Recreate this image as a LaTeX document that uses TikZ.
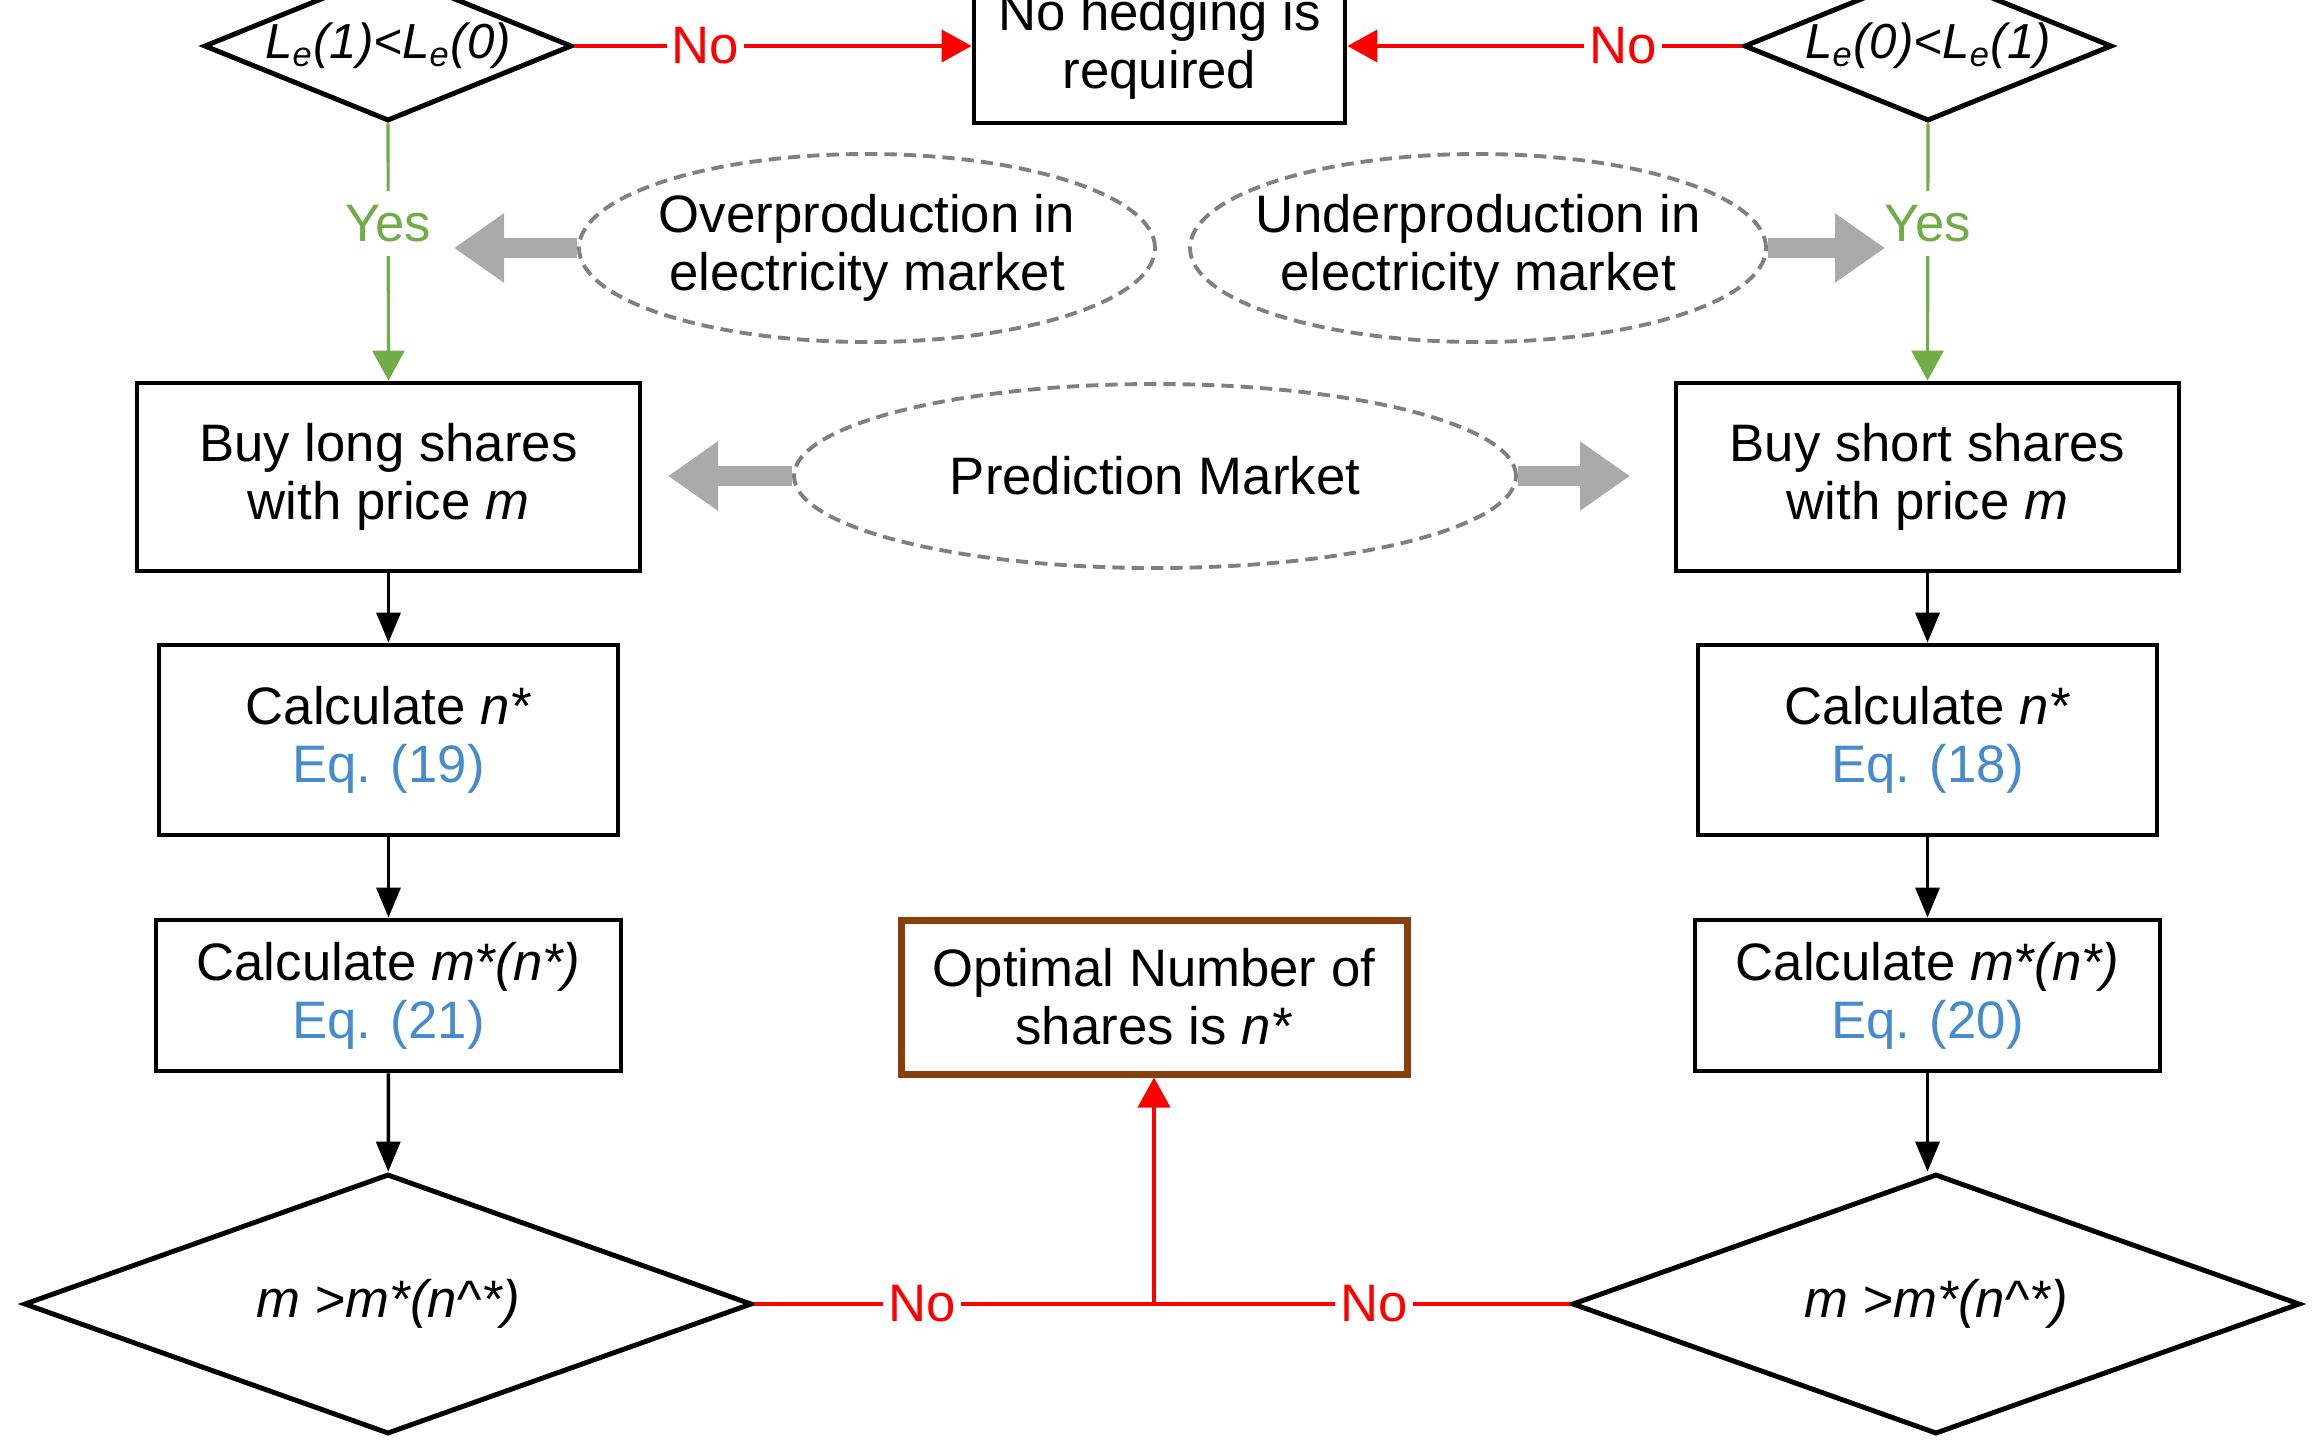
\documentclass[tikz,border=0pt]{standalone}
\usepackage{fontspec}
\setmainfont{Liberation Sans}
\usepackage{xcolor}
\usepackage{tikz}
\usetikzlibrary{shapes.geometric, arrows.meta, positioning}
\definecolor{nored}{RGB}{255,0,0}
\definecolor{yesgreen}{RGB}{112,173,71}
\definecolor{eqblue}{RGB}{70,140,205}
\definecolor{optbrown}{RGB}{138,64,12}
\definecolor{hintgray}{RGB}{128,128,128}
\definecolor{fatgray}{RGB}{170,170,170}
\tikzstyle{box} = [draw=black,line width=1.4pt,fill=white,align=center,inner sep=2pt]
\tikzstyle{decide} = [draw=black,line width=1.4pt,diamond,inner sep=0pt]
\tikzstyle{hint} = [draw=hintgray,ellipse,line width=1.1pt,dash pattern=on 3.5pt off 2pt,inner sep=0pt]
\tikzstyle{fat} = [fatgray,line width=2mm,-{Triangle[width=6.6mm,length=5mm]}]
\tikzstyle{arrow} = [line width=1pt,-{Triangle[width=2.4mm,length=3mm]}]
\tikzstyle{noline} = [nored,line width=1.25pt]
\tikzstyle{yesline} = [yesgreen,line width=0.9pt]
\tikzstyle{lbl} = [fill=white,inner xsep=1.5pt,inner ysep=1pt]

\begin{document}
\begin{tikzpicture}[font=\fontsize{15}{16.5}\selectfont]
    \path[use as bounding box] (0,0) rectangle (23.13,-14.40);
    \clip (0,0) rectangle (23.13,-14.40);

    % first check
    \node[decide, minimum width=3.68cm, minimum height=1.5cm,
          label={center:{\fontsize{14}{16}\selectfont\itshape L\textsubscript{e}(1)<L\textsubscript{e}(0)}}] (q1) at (3.88,-0.46) {};
    \node[decide, minimum width=3.68cm, minimum height=1.5cm,
          label={center:{\fontsize{14}{16}\selectfont\itshape L\textsubscript{e}(0)<L\textsubscript{e}(1)}}] (q2) at (19.28,-0.46) {};
    \node[box, minimum width=3.71cm, minimum height=1.54cm] (nohedge) at (11.595,-0.46) {No hedging is\\required};

    % market hints
    \node[hint, minimum width=5.76cm, minimum height=1.88cm,
          label={[align=center]center:Overproduction in\\electricity market}] (over) at (8.67,-2.48) {};
    \node[hint, minimum width=5.76cm, minimum height=1.88cm,
          label={[align=center]center:Underproduction in\\electricity market}] (under) at (14.78,-2.48) {};
    \node[hint, minimum width=7.22cm, minimum height=1.84cm,
          label={center:Prediction Market}] (pm) at (11.55,-4.76) {};
    \coordinate (overtip) at (4.54,-2.48);
    \coordinate (undertip) at (18.85,-2.48);
    \coordinate (pmleft) at (6.68,-4.76);
    \coordinate (pmright) at (16.30,-4.76);

    % left branch
    \node[box, minimum width=5.03cm, minimum height=1.88cm] (long) at (3.885,-4.77) {Buy long shares\\with price \textit{m}};
    \node[box, minimum width=4.59cm, minimum height=1.90cm] (nleft) at (3.885,-7.40) {Calculate \textit{n*}\\\textcolor{eqblue}{Eq. (19)}};
    \node[box, minimum width=4.65cm, minimum height=1.51cm] (mleft) at (3.885,-9.955) {Calculate \textit{m*(n*)}\\\textcolor{eqblue}{Eq. (21)}};
    \node[decide, minimum width=7.28cm, minimum height=2.60cm,
          label={center:{\itshape m >m*(n\textasciicircum*)}}] (cleft) at (3.88,-13.04) {};

    % right branch
    \node[box, minimum width=5.03cm, minimum height=1.88cm] (short) at (19.275,-4.77) {Buy short shares\\with price \textit{m}};
    \node[box, minimum width=4.59cm, minimum height=1.90cm] (nright) at (19.275,-7.40) {Calculate \textit{n*}\\\textcolor{eqblue}{Eq. (18)}};
    \node[box, minimum width=4.65cm, minimum height=1.51cm] (mright) at (19.275,-9.955) {Calculate \textit{m*(n*)}\\\textcolor{eqblue}{Eq. (20)}};
    \node[decide, minimum width=7.28cm, minimum height=2.60cm,
          label={center:{\itshape m >m*(n\textasciicircum*)}}] (cright) at (19.36,-13.04) {};

    % result
    \node[box, draw=optbrown, line width=2pt, minimum width=5.06cm, minimum height=1.54cm] (opt) at (11.54,-9.97) {Optimal Number of\\shares is \textit{n*}};
    \coordinate (join) at (opt.south |- cleft.east);

    \draw[noline,-{Triangle[width=3.2mm,length=3mm]}] (q1.east) -- node[lbl,text=nored,pos=0.33]{No} (nohedge.west);
    \draw[noline,-{Triangle[width=3.2mm,length=3mm]}] (q2.west) -- node[lbl,text=nored,pos=0.30]{No} (nohedge.east);
    \draw[yesline,-{Triangle[width=3.2mm,length=3mm]}] (q1.south) -- node[lbl,text=yesgreen,pos=0.39,inner ysep=4pt]{Yes} (long.north);
    \draw[yesline,-{Triangle[width=3.2mm,length=3mm]}] (q2.south) -- node[lbl,text=yesgreen,pos=0.39,inner ysep=4pt]{Yes} (short.north);

    \draw[fat] (over.west) -- (overtip);
    \draw[fat] (under.east) -- (undertip);
    \draw[fat] (pm.west) -- (pmleft);
    \draw[fat] (pm.east) -- (pmright);

    \draw[arrow] (long) -- (nleft);
    \draw[arrow] (nleft) -- (mleft);
    \draw[arrow] (mleft) -- (cleft);
    \draw[arrow] (short) -- (nright);
    \draw[arrow] (nright) -- (mright);
    \draw[arrow] (mright.south) -- (mright.south |- cright.north);

    \draw[noline] (cleft.east) -- node[lbl,text=nored,pos=0.42]{No} (join);
    \draw[noline] (cright.west) -- node[lbl,text=nored,pos=0.47]{No} (join);
    \draw[noline,-{Triangle[width=3.2mm,length=3mm]}] (join) -- (opt.south);
\end{tikzpicture}
\end{document}
